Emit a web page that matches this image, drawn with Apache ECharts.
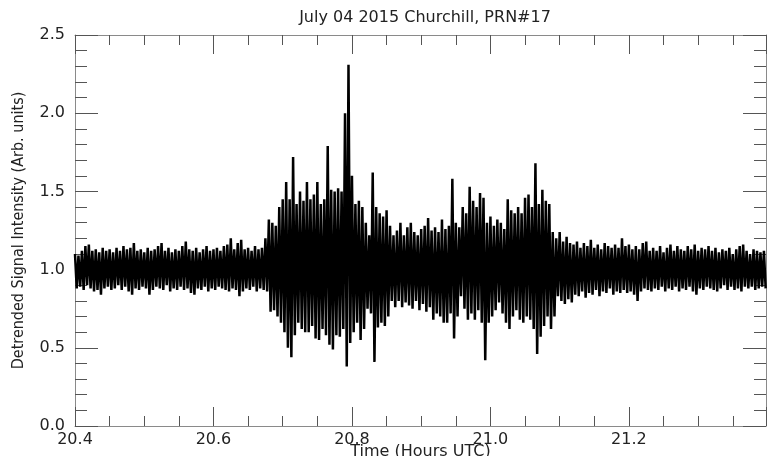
<!DOCTYPE html>
<html>
<head>
<meta charset="utf-8">
<script src="https://cdn.jsdelivr.net/npm/echarts@6/dist/echarts.min.js"></script>
<style>
html,body{margin:0;padding:0;background:#fff;}
#chart{width:767px;height:456px;}
</style>
</head>
<body>
<div id="chart"></div>
<script>
// Chart text
const titleText = 'July 04 2015 Churchill, PRN#17';
const xName = 'Time (Hours UTC)';
const yName = 'Detrended Signal Intensity (Arb. units)';

// Sampling of the envelope (hours UTC)
const tStart = 20.4;
const tStep = 0.005;
const xMin = 20.4, xMax = 21.398, xInterval = 0.2;
const yMin = 0, yMax = 2.5, yInterval = 0.5;

// Upper envelope of the signal (one value per tStep)
const hi = [
  1.10,1.09,1.12,1.15,1.16,1.12,1.13,1.11,1.14,1.12,
  1.13,1.11,1.14,1.12,1.15,1.13,1.14,1.17,1.12,1.13,
  1.11,1.14,1.12,1.13,1.15,1.17,1.12,1.14,1.11,1.13,
  1.12,1.15,1.18,1.13,1.12,1.14,1.11,1.13,1.15,1.12,
  1.13,1.14,1.12,1.15,1.16,1.20,1.13,1.17,1.19,1.13,
  1.14,1.12,1.15,1.13,1.14,1.20,1.32,1.30,1.28,1.40,
  1.45,1.56,1.45,1.72,1.42,1.50,1.44,1.56,1.45,1.48,
  1.56,1.42,1.45,1.79,1.51,1.50,1.52,1.50,2.00,2.31,
  1.60,1.42,1.44,1.40,1.30,1.22,1.62,1.40,1.36,1.34,
  1.38,1.28,1.22,1.25,1.30,1.22,1.27,1.30,1.24,1.22,
  1.26,1.28,1.33,1.25,1.27,1.24,1.32,1.26,1.28,1.58,
  1.30,1.27,1.40,1.36,1.53,1.44,1.40,1.49,1.46,1.30,
  1.34,1.28,1.32,1.30,1.26,1.45,1.38,1.36,1.40,1.36,
  1.46,1.48,1.40,1.68,1.42,1.51,1.44,1.42,1.24,1.20,
  1.24,1.18,1.21,1.17,1.16,1.18,1.14,1.17,1.15,1.19,
  1.14,1.16,1.13,1.17,1.15,1.14,1.16,1.14,1.20,1.15,
  1.16,1.13,1.15,1.13,1.17,1.18,1.12,1.14,1.12,1.15,
  1.11,1.14,1.16,1.12,1.15,1.13,1.12,1.15,1.13,1.16,
  1.12,1.14,1.13,1.15,1.12,1.14,1.11,1.13,1.12,1.14,
  1.10,1.13,1.15,1.16,1.12,1.10,1.13,1.12,1.11,1.12
];
// Lower envelope of the signal (one value per tStep, offset by half a step)
const lo = [
  0.88,0.89,0.87,0.90,0.88,0.86,0.87,0.84,0.88,0.89,
  0.87,0.88,0.90,0.87,0.89,0.86,0.84,0.88,0.87,0.89,
  0.88,0.84,0.87,0.89,0.88,0.87,0.90,0.86,0.88,0.87,
  0.89,0.87,0.88,0.85,0.84,0.88,0.87,0.89,0.86,0.88,
  0.87,0.89,0.88,0.87,0.86,0.88,0.87,0.83,0.86,0.88,
  0.87,0.89,0.86,0.88,0.87,0.86,0.73,0.74,0.70,0.66,
  0.60,0.50,0.44,0.58,0.66,0.62,0.60,0.60,0.64,0.56,
  0.55,0.62,0.58,0.52,0.49,0.58,0.57,0.62,0.38,0.53,
  0.60,0.66,0.55,0.62,0.75,0.72,0.41,0.63,0.66,0.64,
  0.70,0.80,0.76,0.80,0.76,0.79,0.77,0.75,0.80,0.74,
  0.78,0.73,0.76,0.68,0.72,0.70,0.66,0.66,0.72,0.56,
  0.70,0.83,0.75,0.68,0.72,0.68,0.74,0.66,0.42,0.66,
  0.70,0.74,0.79,0.72,0.66,0.62,0.70,0.74,0.68,0.66,
  0.70,0.68,0.62,0.46,0.57,0.64,0.70,0.62,0.70,0.83,
  0.80,0.78,0.81,0.79,0.84,0.83,0.86,0.82,0.85,0.84,
  0.87,0.83,0.86,0.85,0.88,0.84,0.86,0.85,0.87,0.85,
  0.86,0.84,0.80,0.86,0.88,0.87,0.86,0.88,0.87,0.89,
  0.86,0.88,0.87,0.89,0.86,0.88,0.87,0.89,0.86,0.84,
  0.88,0.87,0.89,0.88,0.87,0.86,0.88,0.90,0.87,0.89,
  0.87,0.88,0.86,0.89,0.88,0.89,0.87,0.88,0.89,0.88
];

const seriesData = [];
for (let i = 0; i < hi.length; i++) {
  seriesData.push([tStart + i * tStep, hi[i]]);
  seriesData.push([tStart + (i + 0.5) * tStep, lo[i]]);
}

const FONT = 'DejaVu Sans';
const axisLineStyle = { color: '#8a8a8a', width: 1 };
const tickStyle = { color: '#555', width: 1 };

function xAx(pos, withLabels) {
  return {
    type: 'value', position: pos, min: xMin, max: xMax, interval: xInterval,
    axisLine: { show: true, onZero: false, lineStyle: axisLineStyle },
    axisTick: { show: true, inside: true, length: 19, lineStyle: tickStyle },
    minorTick: { show: true, splitNumber: 4, length: 10, lineStyle: tickStyle },
    splitLine: { show: false },
    axisLabel: {
      show: withLabels, showMaxLabel: false, margin: 6,
      fontFamily: FONT, fontSize: 16, color: '#222',
      formatter: v => v.toFixed(1)
    },
    name: withLabels ? xName : '', nameLocation: 'middle', nameGap: 18,
    nameMoveOverlap: false,
    nameTextStyle: { fontFamily: FONT, fontSize: 16, color: '#222', verticalAlign: 'top' }
  };
}
function yAx(pos, withLabels) {
  return {
    type: 'value', position: pos, min: yMin, max: yMax, interval: yInterval,
    axisLine: { show: true, onZero: false, lineStyle: axisLineStyle },
    axisTick: { show: true, inside: true, length: 23, lineStyle: tickStyle },
    minorTick: { show: true, splitNumber: 5, length: 12, lineStyle: tickStyle },
    splitLine: { show: false },
    axisLabel: {
      show: withLabels, margin: 10,
      fontFamily: FONT, fontSize: 16, color: '#222',
      formatter: v => v.toFixed(1)
    },
    name: withLabels ? yName : '', nameLocation: 'middle', nameGap: 48,
    nameMoveOverlap: false,
    nameTextStyle: { fontFamily: 'DejaVu Sans Condensed, DejaVu Sans', fontSize: 16, color: '#222' }
  };
}

const chart = echarts.init(document.getElementById('chart'), null, { renderer: 'canvas' });
chart.setOption({
  animation: false,
  backgroundColor: '#fff',
  title: {
    text: titleText, left: 420, textAlign: 'center', top: 5,
    textStyle: { fontFamily: FONT, fontSize: 16, fontWeight: 'normal', color: '#222' }
  },
  grid: { left: 75, right: 1, top: 35, bottom: 30, containLabel: false, outerBoundsMode: 'none' },
  xAxis: [xAx('bottom', true), xAx('top', false)],
  yAxis: [yAx('left', true), yAx('right', false)],
  series: [{
    type: 'line', xAxisIndex: 0, yAxisIndex: 0,
    data: seriesData, showSymbol: false, symbol: 'none',
    sampling: null,
    lineStyle: { color: '#000', width: 2.5, join: 'bevel' },
    z: 1
  }]
});
</script>
</body>
</html>
